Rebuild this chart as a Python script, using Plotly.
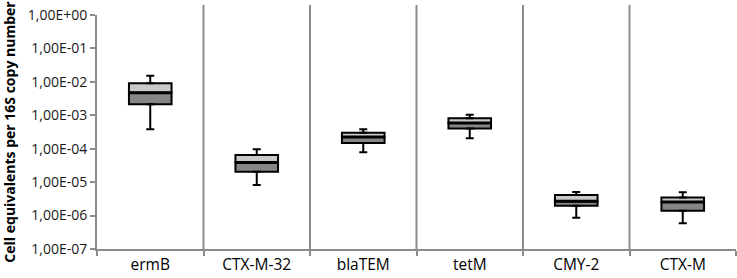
import plotly.graph_objects as go

categories = ["ermB", "CTX-M-32", "blaTEM", "tetM", "CMY-2", "CTX-M"]
whisker_low = [3.8e-4, 8.2e-6, 7.8e-5, 2.05e-4, 8.6e-7, 5.9e-7]
q1 = [2.13e-3, 2.05e-5, 1.48e-4, 4.0e-4, 1.98e-6, 1.4e-6]
median = [4.74e-3, 3.9e-5, 2.24e-4, 5.9e-4, 2.67e-6, 2.55e-6]
q3 = [9.06e-3, 6.5e-5, 3.0e-4, 8.1e-4, 4.1e-6, 3.5e-6]
whisker_high = [1.53e-2, 9.6e-5, 3.8e-4, 1.04e-3, 5.1e-6, 5.0e-6]

y_tickvals = [1e-7, 1e-6, 1e-5, 1e-4, 1e-3, 1e-2, 1e-1, 1e0]
y_ticktext = ["1,00E-07", "1,00E-06", "1,00E-05", "1,00E-04",
              "1,00E-03", "1,00E-02", "1,00E-01", "1,00E+00"]

FONT = "Open Sans"
BW = 0.40

fig = go.Figure()

# lower box half (Q1 -> median), dark grey
fig.add_trace(go.Bar(
    x=categories, base=q1, y=[m - a for m, a in zip(median, q1)],
    width=BW, marker=dict(color="#868686", line=dict(color="black", width=2)),
    showlegend=False, hoverinfo="skip"))
# upper box half (median -> Q3), light grey
fig.add_trace(go.Bar(
    x=categories, base=median, y=[b - m for b, m in zip(q3, median)],
    width=BW, marker=dict(color="#c8c8c8", line=dict(color="black", width=2)),
    showlegend=False, hoverinfo="skip"))

# upper whisker
fig.add_trace(go.Scatter(
    x=categories, y=q3, mode="markers", marker=dict(opacity=0),
    error_y=dict(type="data", symmetric=False,
                 array=[h - b for h, b in zip(whisker_high, q3)],
                 arrayminus=[0] * len(q3),
                 width=4, thickness=2, color="black"),
    showlegend=False, hoverinfo="skip"))
# lower whisker
fig.add_trace(go.Scatter(
    x=categories, y=q1, mode="markers", marker=dict(opacity=0),
    error_y=dict(type="data", symmetric=False,
                 array=[0] * len(q1),
                 arrayminus=[a - l for a, l in zip(q1, whisker_low)],
                 width=4, thickness=2, color="black"),
    showlegend=False, hoverinfo="skip"))
# median line
fig.add_trace(go.Scatter(
    x=categories, y=median, mode="markers",
    marker=dict(symbol="line-ew", size=30, line=dict(color="black", width=3)),
    showlegend=False, hoverinfo="skip"))

# category separators
for i in range(len(categories) - 1):
    fig.add_shape(type="line", xref="x", yref="paper",
                  x0=i + 0.5, x1=i + 0.5, y0=0, y1=1.043,
                  line=dict(color="#8c8c8c", width=2), layer="below")

fig.update_layout(
    width=737, height=278,
    margin=dict(l=97, r=1, t=15, b=29),
    plot_bgcolor="white", paper_bgcolor="white",
    barmode="overlay",
    font=dict(family=FONT, color="black"),
)
fig.update_xaxes(
    type="category", showgrid=False, showline=True, linecolor="#8c8c8c", linewidth=2,
    ticks="outside", tickson="boundaries", ticklen=5, tickcolor="#8c8c8c", tickwidth=2,
    tickfont=dict(size=15.5, family=FONT, color="black"), range=[-0.5, 5.5],
    automargin=False,
)
fig.update_yaxes(
    type="log", range=[-7, 0], showgrid=False, zeroline=False,
    showline=True, linecolor="#8c8c8c", linewidth=2,
    ticks="outside", ticklen=5, tickcolor="#8c8c8c", tickwidth=2,
    tickvals=y_tickvals, ticktext=y_ticktext,
    tickfont=dict(size=14, family=FONT, color="#1a1a1a"),
    automargin=False,
    title=dict(text="<b>Cell equivalents per 16S copy number</b>",
               font=dict(size=14, family=FONT, color="black"), standoff=11),
)

# remove the default 8px page margin so the figure fills the window exactly
fig.write_html("out.html", config={"displayModeBar": False},
               post_script="document.body.style.margin='0';")
